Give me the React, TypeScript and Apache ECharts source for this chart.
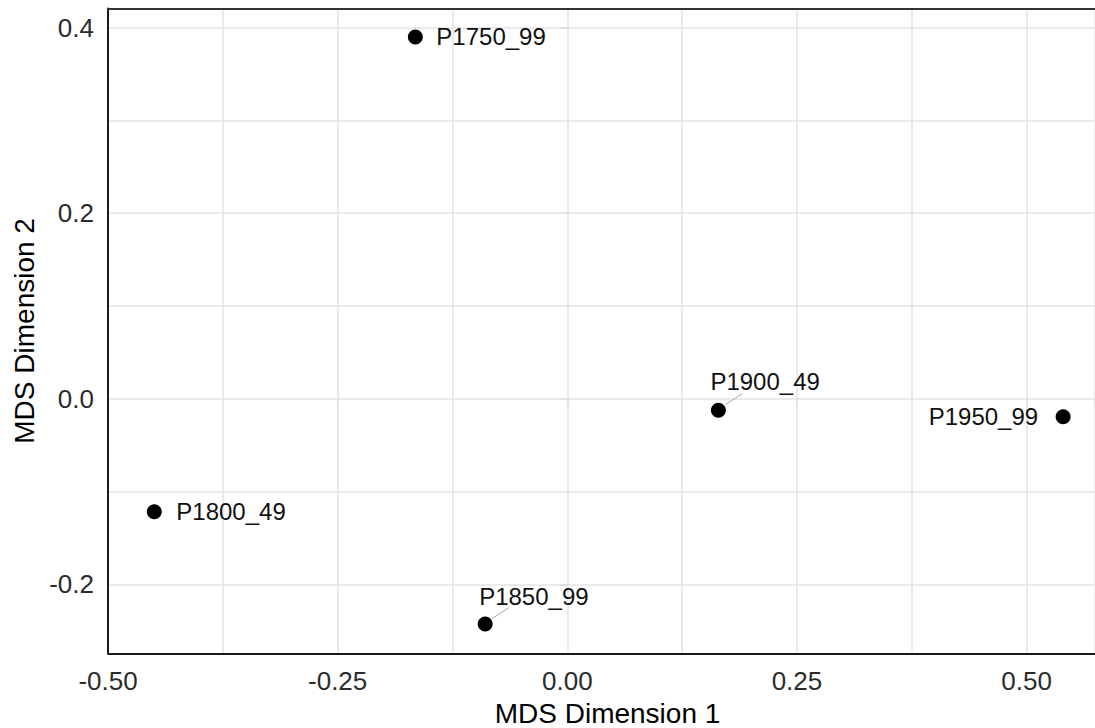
import React, { useEffect, useRef } from "react";
import * as echarts from "echarts";

const sampleNames = ["P1750_99", "P1800_49", "P1850_99", "P1900_49", "P1950_99"];
const dim1 = [-0.1654, -0.4496, -0.0894, 0.1645, 0.5398];
const dim2 = [0.3899, -0.1218, -0.2428, -0.0123, -0.0195];

const xMin = -0.5;
const xMax = 0.5745;
const yMin = -0.2743;
const yMax = 0.4205;

// label placement style per point (not data)
const labelPlacement: any[] = [
  { position: "right", distance: 13.5 },
  { position: "right", distance: 14.5 },
  { position: [1.5, -20], align: "left", verticalAlign: "middle", leader: true },
  { position: [-0.5, -21.5], align: "left", verticalAlign: "middle", leader: true },
  { position: "left", distance: 17.5 },
];

const FONT = "'Liberation Sans', Arial, sans-serif";

const frameAxis = (extra: any) => ({
  type: "value",
  z: 10,
  silent: true,
  axisLine: { show: true, onZero: false, lineStyle: { color: "#1a1a1a", width: 2 } },
  axisTick: { show: false },
  axisLabel: { show: false },
  splitLine: { show: false },
  ...extra,
});

export default function App() {
  const ref = useRef<HTMLDivElement>(null);
  useEffect(() => {
    if (!ref.current) return;
    const chart = echarts.init(ref.current, null, { renderer: "svg" });

    const scatterData = sampleNames.map((n, i) => {
      const p = labelPlacement[i];
      const label: any = {
        show: true,
        formatter: n,
        position: p.position,
        color: "#111",
        fontSize: 24,
        fontFamily: FONT,
      };
      if (p.distance !== undefined) label.distance = p.distance;
      if (p.align) label.align = p.align;
      if (p.verticalAlign) label.verticalAlign = p.verticalAlign;
      return { name: n, value: [dim1[i], dim2[i]], label };
    });

    const leaderData = sampleNames
      .map((n, i) => ({ i, n }))
      .filter((d) => labelPlacement[d.i].leader)
      .map((d) => [dim1[d.i], dim2[d.i]]);

    chart.setOption({
      animation: false,
      backgroundColor: "#ffffff",
      grid: {
        left: 108,
        top: 8.5,
        right: 0,
        bottom: 74.7,
        outerBoundsMode: "none",
        containLabel: false,
      },
      xAxis: [
        {
          type: "value",
          min: xMin,
          max: xMax,
          interval: 0.25,
          position: "bottom",
          name: "MDS Dimension 1",
          nameLocation: "middle",
          nameGap: 45,
          nameTextStyle: {
            fontSize: 28,
            color: "#000",
            fontFamily: FONT,
            padding: [0, 0, 0, 12],
          },
          axisLine: { show: false },
          axisTick: { show: true, length: 7, lineStyle: { color: "#dcdcdc", width: 1.5 } },
          axisLabel: {
            fontSize: 26,
            color: "#2b2b2b",
            fontFamily: FONT,
            margin: 15,
            formatter: (v: number) =>
              Math.abs(v * 4 - Math.round(v * 4)) < 1e-6 ? v.toFixed(2) : "",
          },
          splitLine: { show: true, lineStyle: { color: "#e3e3e3", width: 1.5 } },
          minorTick: { show: false, splitNumber: 2 },
          minorSplitLine: { show: true, lineStyle: { color: "#e3e3e3", width: 1.5 } },
        },
        frameAxis({ min: xMin, max: xMax, position: "bottom" }),
        frameAxis({ min: xMin, max: xMax, position: "top", axisLine: { show: true, onZero: false, lineStyle: { color: "#333", width: 2 } } }),
      ],
      yAxis: [
        {
          type: "value",
          min: yMin,
          max: yMax,
          splitNumber: 4,
          name: "MDS Dimension 2",
          nameLocation: "middle",
          nameGap: 63,
          nameRotate: 90,
          nameTextStyle: {
            fontSize: 28,
            color: "#000",
            fontFamily: FONT,
          },
          axisLine: { show: false },
          axisTick: { show: true, length: 7, lineStyle: { color: "#dcdcdc", width: 1.5 } },
          axisLabel: {
            fontSize: 26,
            color: "#2b2b2b",
            fontFamily: FONT,
            margin: 14,
            formatter: (v: number) =>
              Math.abs(v * 5 - Math.round(v * 5)) < 1e-6 ? v.toFixed(1) : "",
          },
          splitLine: { show: true, lineStyle: { color: "#e3e3e3", width: 1.5 } },
          minorTick: { show: false, splitNumber: 2 },
          minorSplitLine: { show: true, lineStyle: { color: "#e3e3e3", width: 1.5 } },
        },
        frameAxis({ min: yMin, max: yMax, position: "left" }),
      ],
      series: [
        {
          type: "custom",
          silent: true,
          z: 2,
          xAxisIndex: 0,
          yAxisIndex: 0,
          renderItem: (params: any, api: any) => {
            const pt = api.coord([api.value(0), api.value(1)]);
            return {
              type: "line",
              shape: { x1: pt[0] + 7, y1: pt[1] - 5.5, x2: pt[0] + 24, y2: pt[1] - 16.5 },
              style: { stroke: "#a8a8a8", lineWidth: 1 },
            };
          },
          data: leaderData,
        },
        {
          type: "scatter",
          symbol: "circle",
          symbolSize: 15,
          z: 3,
          xAxisIndex: 0,
          yAxisIndex: 0,
          itemStyle: { color: "#000", opacity: 1 },
          data: scatterData,
        },
      ],
    });
    return () => chart.dispose();
  }, []);

  return (
    <div
      ref={ref}
      style={{ position: "absolute", left: 0, top: 0, width: 1095, height: 728 }}
    />
  );
}
